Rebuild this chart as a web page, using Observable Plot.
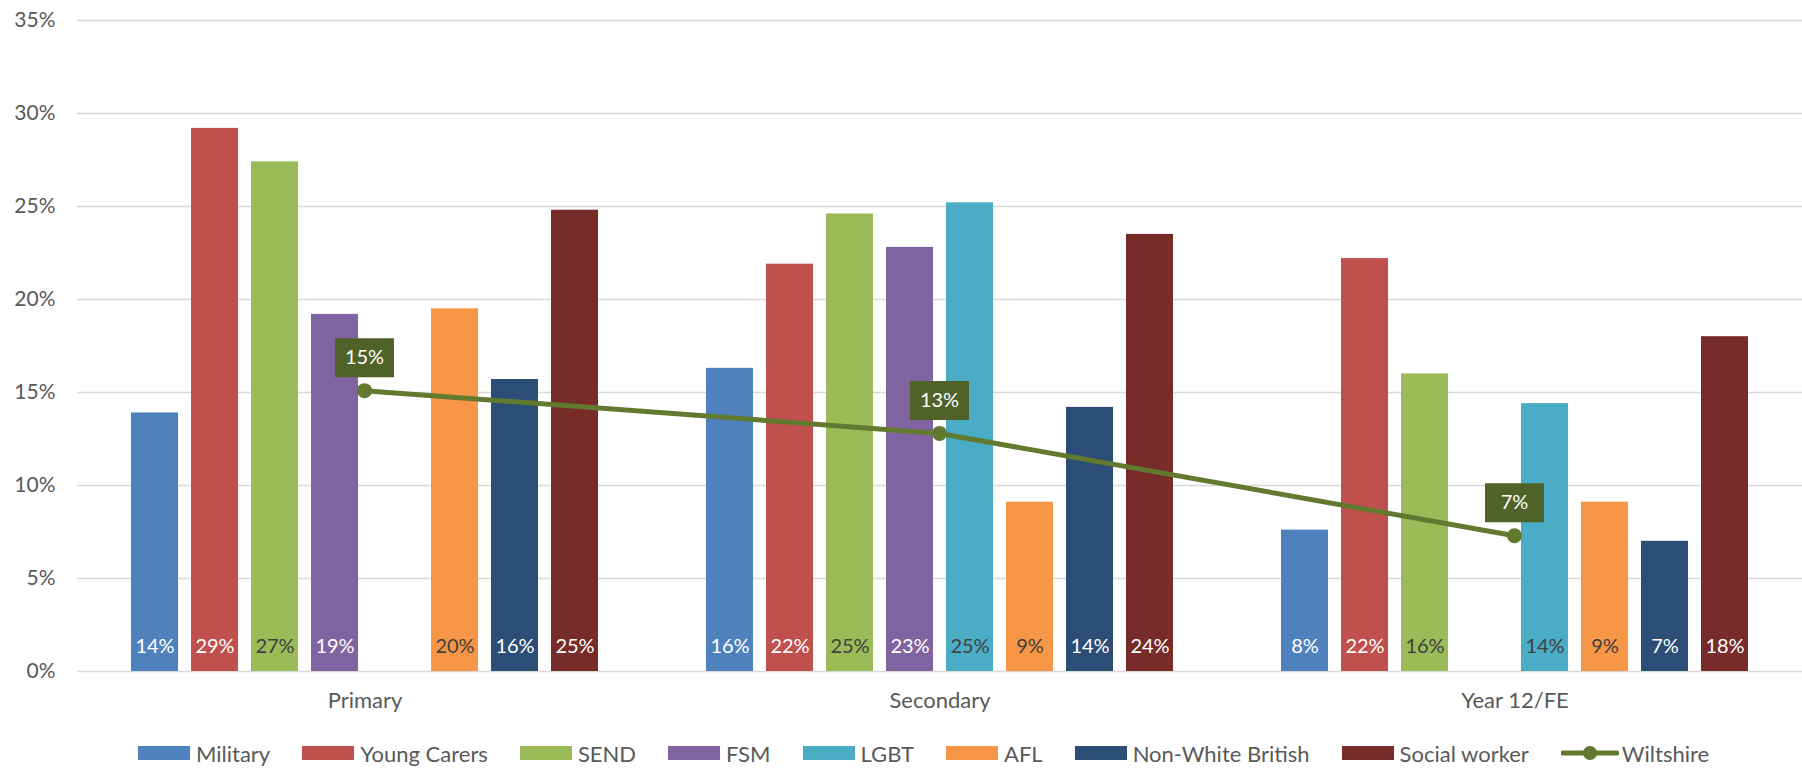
<!DOCTYPE html>
<html>
<head>
<meta charset="utf-8">
<script src="https://cdn.jsdelivr.net/npm/d3@7"></script>
<script src="https://cdn.jsdelivr.net/npm/@observablehq/plot@0.6"></script>
<style>
  html, body { margin: 0; padding: 0; background: #ffffff; }
  #chart { position: relative; width: 1802px; height: 725px; }
  #chart svg { position: absolute; left: 0; top: 0; }
  #legend { display: flex; align-items: center; box-sizing: border-box; height: 43px; padding: 13px 0 0 138px;
            font-family: Lato, "Open Sans", sans-serif; font-size: 22px; color: #595959; white-space: nowrap; }
  .item { display: flex; align-items: center; height: 30px; margin-right: 32px; }
  .sw { width: 52px; height: 14px; margin-right: 6px; }
  .item svg { margin-right: 3px; }
</style>
</head>
<body>
<div id="chart"></div>
<div id="legend"></div>
<script>
// ---- data ----
const categories = ["Primary", "Secondary", "Year 12/FE"];
const series = ["Military", "Young Carers", "SEND", "FSM", "LGBT", "AFL", "Non-White British", "Social worker"];
const military        = [13.9, 16.3, 7.6];
const youngCarers     = [29.2, 21.9, 22.2];
const send            = [27.4, 24.6, 16.0];
const fsm             = [19.2, 22.8, null];
const lgbt            = [null, 25.2, 14.4];
const afl             = [19.5, 9.1, 9.1];
const nonWhiteBritish = [15.7, 14.2, 7.0];
const socialWorker    = [24.8, 23.5, 18.0];
const wiltshire       = [15.1, 12.8, 7.3];
const yTicks = [0, 5, 10, 15, 20, 25, 30, 35];

// ---- styles ----
const colors = ["#4F81BD", "#C0504D", "#9BBB59", "#8064A2", "#4BACC6", "#F79646", "#2C4D75", "#772C2A"];
const darkLabelSeries = ["SEND", "LGBT", "AFL"];
const lineColor = "#617A2F";
const boxColor = "#4F6228";
const font = 'Lato, "Open Sans", sans-serif';

const seriesValues = [military, youngCarers, send, fsm, lgbt, afl, nonWhiteBritish, socialWorker];
const rows = [];
series.forEach((s, si) => {
  categories.forEach((c, ci) => {
    const v = seriesValues[si][ci];
    if (v != null) rows.push({category: c, series: s, value: v});
  });
});
const wiltRows = categories.map((c, i) => ({category: c, value: wiltshire[i]}));
const pct = d => Math.round(d.value) + "%";

const W = 1802, H = 725;
const margins = {marginLeft: 76, marginRight: 0, marginTop: 20, marginBottom: 54};

const bars = Plot.plot({
  width: W, height: H, ...margins,
  style: {fontFamily: font, fontSize: "21px", color: "#595959", background: "transparent"},
  fx: {domain: categories, padding: 0, axis: null},
  x: {domain: series, paddingInner: 0.223, paddingOuter: 0.857, axis: null},
  y: {domain: [0, 35], axis: null},
  color: {domain: series, range: colors},
  marks: [
    Plot.gridY(yTicks, {stroke: "#D9D9D9", strokeOpacity: 1, strokeWidth: 1.5}),
    Plot.axisY(yTicks, {tickFormat: d => d + "%", tickSize: 0, tickPadding: 22, label: null, fontSize: 21}),
    Plot.axisFx({anchor: "bottom", tickSize: 0, tickPadding: 21, label: null, fontSize: 22}),
    Plot.barY(rows, {fx: "category", x: "series", y: "value", fill: "series"}),
    Plot.text(rows.filter(d => !darkLabelSeries.includes(d.series)),
      {fx: "category", x: "series", y: 0, text: pct, fill: "white", dy: -25, fontSize: 20}),
    Plot.text(rows.filter(d => darkLabelSeries.includes(d.series)),
      {fx: "category", x: "series", y: 0, text: pct, fill: "#404040", dy: -25, fontSize: 20})
  ]
});

const boxSymbol = {draw(ctx) { ctx.rect(-29.5, -19.5, 59, 39); }};

const line = Plot.plot({
  width: W, height: H, ...margins,
  style: {fontFamily: font, fontSize: "20px", background: "transparent"},
  x: {type: "point", domain: categories, padding: 0.5, axis: null},
  y: {domain: [0, 35], axis: null},
  marks: [
    Plot.line(wiltRows, {x: "category", y: "value", stroke: lineColor, strokeWidth: 5}),
    Plot.dot(wiltRows, {x: "category", y: "value", r: 7.5, fill: lineColor, stroke: "none"}),
    Plot.dot(wiltRows, {x: "category", y: "value", symbol: boxSymbol, fill: boxColor, stroke: "none", dy: -33}),
    Plot.text(wiltRows, {x: "category", y: "value", text: pct, fill: "white", dy: -33, fontSize: 20})
  ]
});
line.style.pointerEvents = "none";

const chart = document.getElementById("chart");
chart.appendChild(bars);
chart.appendChild(line);

// ---- legend ----
const legend = document.getElementById("legend");
series.forEach((s, i) => {
  const item = document.createElement("div");
  item.className = "item";
  const sw = document.createElement("div");
  sw.className = "sw";
  sw.style.background = colors[i];
  const label = document.createElement("span");
  label.textContent = s;
  item.append(sw, label);
  legend.appendChild(item);
});
const wItem = document.createElement("div");
wItem.className = "item";
wItem.innerHTML = `<svg width="58" height="18"><line x1="2" x2="56" y1="9" y2="9" stroke="${lineColor}" stroke-width="5" stroke-linecap="round"/><circle cx="29" cy="9" r="7" fill="${lineColor}"/></svg><span>Wiltshire</span>`;
legend.appendChild(wItem);
</script>
</body>
</html>
